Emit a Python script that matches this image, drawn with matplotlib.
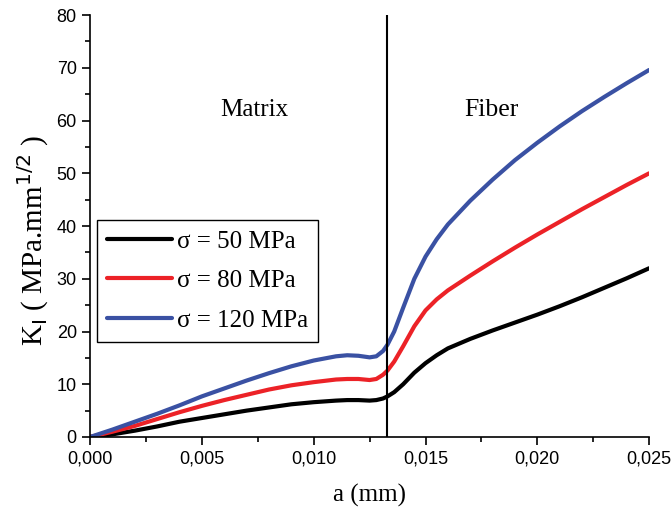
import numpy as np
import matplotlib.pyplot as plt
from matplotlib.ticker import MultipleLocator, FuncFormatter

# crack length a (mm)
a_mm = [0.0, 0.001, 0.002, 0.003, 0.004, 0.005, 0.006, 0.007, 0.008, 0.009,
        0.010, 0.011, 0.0115, 0.012, 0.0125, 0.0128, 0.0131, 0.0133, 0.0136,
        0.014, 0.0145, 0.015, 0.0155, 0.016, 0.017, 0.018, 0.019, 0.020,
        0.021, 0.022, 0.023, 0.024, 0.025]

k_50 = [0.0, 0.5, 1.2, 2.0, 2.9, 3.6, 4.3, 5.0, 5.6, 6.2,
        6.6, 6.9, 7.0, 7.0, 6.9, 7.0, 7.3, 7.7, 8.5,
        10.0, 12.2, 14.0, 15.5, 16.8, 18.6, 20.2, 21.7, 23.2,
        24.8, 26.5, 28.3, 30.1, 32.0]

k_80 = [0.0, 1.0, 2.1, 3.4, 4.7, 5.9, 7.0, 8.0, 9.0, 9.8,
        10.4, 10.9, 11.0, 11.0, 10.8, 11.0, 11.8, 12.6, 14.3,
        17.2, 21.0, 24.0, 26.1, 27.8, 30.6, 33.3, 35.9, 38.4,
        40.8, 43.2, 45.5, 47.8, 50.0]

k_120 = [0.0, 1.4, 2.9, 4.4, 6.0, 7.7, 9.2, 10.7, 12.1, 13.4,
         14.5, 15.3, 15.5, 15.4, 15.1, 15.3, 16.3, 17.5, 20.0,
         24.5, 30.0, 34.2, 37.5, 40.3, 44.8, 48.8, 52.5, 55.8,
         58.9, 61.8, 64.5, 67.1, 69.6]

labels = ["σ = 50 MPa", "σ = 80 MPa", "σ = 120 MPa"]
colors = ["black", "#ec2227", "#3a51a3"]
interface_a = 0.0133

serif = "Liberation Serif"

fig = plt.figure(figsize=(6.72, 5.12), dpi=100)
ax = fig.add_axes([0.134, 0.1465, 0.832, 0.824])

for k, lab, c in zip([k_50, k_80, k_120], labels, colors):
    ax.plot(a_mm, k, color=c, lw=3, label=lab, solid_capstyle="round",
            solid_joinstyle="round")

ax.axvline(interface_a, color="black", lw=1.5)

ax.text(0.00735, 62, "Matrix", family=serif, fontsize=18, ha="center", va="center")
ax.text(0.01795, 62, "Fiber", family=serif, fontsize=18.5, ha="center", va="center")

ax.set_xlim(0, 0.025)
ax.set_ylim(0, 80)
ax.xaxis.set_major_locator(MultipleLocator(0.005))
ax.xaxis.set_minor_locator(MultipleLocator(0.0025))
ax.yaxis.set_major_locator(MultipleLocator(10))
ax.yaxis.set_minor_locator(MultipleLocator(5))
ax.xaxis.set_major_formatter(FuncFormatter(lambda v, p: f"{v:.3f}".replace(".", ",")))

for s in ["top", "right"]:
    ax.spines[s].set_visible(False)
for s in ["left", "bottom"]:
    ax.spines[s].set_linewidth(1.2)

ax.tick_params(which="both", direction="out", width=1.2)
ax.tick_params(which="major", length=6, labelsize=13)
ax.tick_params(which="minor", length=3.5)
for t in ax.get_xticklabels() + ax.get_yticklabels():
    t.set_family("Liberation Sans")

ax.set_xlabel("a (mm)", family=serif, fontsize=18, labelpad=12)
ax.set_ylabel(r"K$_{\rm I}$ ( MPa.mm$^{1/2}$ )", family=serif, fontsize=21)
ax.yaxis.set_label_coords(-0.07, 0.465)

leg = ax.legend(loc="upper left", bbox_to_anchor=(0.0125, 0.514), fancybox=False,
                edgecolor="black", framealpha=1, handlelength=2.6, handletextpad=0.2,
                borderpad=0.4, labelspacing=0.68, borderaxespad=0,
                prop={"family": serif, "size": 18})
leg.get_frame().set_linewidth(1.0)

fig.savefig("out.png", dpi=100)
